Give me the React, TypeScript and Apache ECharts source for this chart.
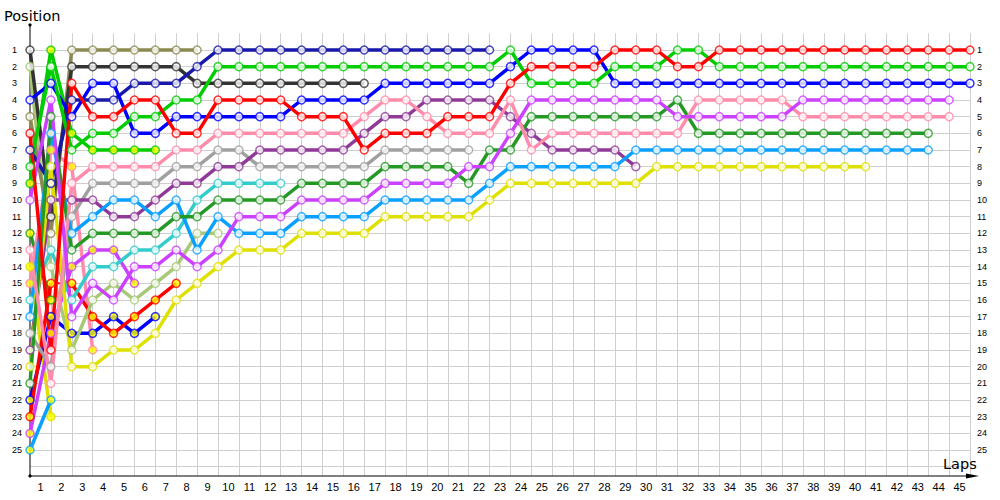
import React, { useEffect, useRef } from "react";
import * as echarts from "echarts";

// Tick labels
const lapLabels = ["1","2","3","4","5","6","7","8","9","10","11","12","13","14","15","16","17","18","19","20","21","22","23","24","25","26","27","28","29","30","31","32","33","34","35","36","37","38","39","40","41","42","43","44","45"];
const maxLap = 45;
const maxPosition = 25;

// Positions per lap (index = lap, starting with the grid at lap 0)
const red = [6,19,3,5,5,4,4,6,6,4,4,4,4,5,5,5,7,6,6,6,5,5,5,3,2,2,2,2,1,1,1,2,2,1,1,1,1,1,1,1,1,1,1,1,1,1];
const green = [8,2,7,6,6,5,5,4,4,2,2,2,2,2,2,2,2,2,2,2,2,2,2,1,3,3,3,3,2,2,2,1,1,2,2,2,2,2,2,2,2,2,2,2,2,2];
const blue = [4,3,5,3,3,6,6,5,5,5,5,5,5,4,4,4,4,3,3,3,3,3,3,2,1,1,1,1,3,3,3,3,3,3,3,3,3,3,3,3,3,3,3,3,3,3];
const navy = [7,9,4,4,4,3,3,3,2,1,1,1,1,1,1,1,1,1,1,1,1,1,1];
const olive = [5,12,1,1,1,1,1,1,1];
const darkGray = [1,11,2,2,2,2,2,2,3,3,3,3,3,3,3,3,3];
const pink = [13,21,9,8,8,8,8,7,7,6,6,6,6,6,6,6,5,4,4,5,6,6,6,4,7,6,6,6,6,6,6,6,4,4,4,4,4,5,5,5,5,5,5,5,5];
const purple = [19,10,10,10,11,11,10,9,9,8,8,7,7,7,7,7,6,5,5,4,4,4,4,5,6,7,7,7,7,8];
const gray = [18,20,11,9,9,9,9,8,8,7,7,8,8,8,8,8,8,7,7,7,7,7];
const cyan = [16,13,16,14,14,13,13,12,10,9,9,9,9];
const darkGreen = [21,5,13,12,12,12,12,11,11,10,10,10,10,9,9,9,9,8,8,8,8,9,7,7,5,5,5,5,5,5,5,4,6,6,6,6,6,6,6,6,6,6,6,6];
const lightBlue = [17,6,12,11,10,10,11,10,13,11,12,12,12,11,11,11,11,10,10,10,10,10,9,8,8,8,8,8,8,7,7,7,7,7,7,7,7,7,7,7,7,7,7,7];
const magenta = [10,4,17,15,16,14,14,13,14,13,11,11,11,10,10,10,10,9,9,9,9,8,8,6,4,4,4,4,4,4,4,5,5,5,5,5,5,4,4,4,4,4,4,4,4];
const lightGreen = [2,14,19,16,15,16,15,14,12,12];
const yellow = [20,8,20,20,19,19,18,16,15,14,13,13,13,12,12,12,12,11,11,11,11,11,10,9,9,9,9,9,9,9,8,8,8,8,8,8,8,8,8,8,8];
const greenB = [9,1,6,7,7,7,7];
const redB = [23,15,15,17,18,17,16,15];
const blueB = [22,17,18,18,17,18,17];
const magentaB = [24,18,14,13,13,15];
const pinkB = [15,7,8,19];
const yellowB = [14,23];
const lightBlueB = [25,22];
const darkGreenB = [12,16];

type Driver = { name: string; color: string; filled: boolean; pos: number[]; dashed?: number[] };

const drivers: Driver[] = [
  { name: "Yellow B", color: "#e0e000", filled: true, pos: yellowB },
  { name: "Light blue B", color: "#0aa0ff", filled: true, pos: lightBlueB },
  { name: "Dark green B", color: "#259925", filled: true, pos: darkGreenB },
  { name: "Pink B", color: "#ff8caa", filled: true, pos: pinkB },
  { name: "Magenta B", color: "#cc40ff", filled: true, pos: magentaB },
  { name: "Blue B", color: "#0000ff", filled: true, pos: blueB },
  { name: "Red B", color: "#ff0000", filled: true, pos: redB, dashed: [1] },
  { name: "Green B", color: "#00cc00", filled: true, pos: greenB },
  { name: "Light green", color: "#a8c878", filled: false, pos: lightGreen },
  { name: "Olive", color: "#8c8a52", filled: false, pos: olive },
  { name: "Cyan", color: "#33cccc", filled: false, pos: cyan },
  { name: "Dark gray", color: "#333333", filled: false, pos: darkGray },
  { name: "Gray", color: "#a0a0a0", filled: false, pos: gray },
  { name: "Navy", color: "#1818aa", filled: false, pos: navy },
  { name: "Purple", color: "#903a98", filled: false, pos: purple },
  { name: "Yellow", color: "#e0e000", filled: false, pos: yellow },
  { name: "Light blue", color: "#0aa0ff", filled: false, pos: lightBlue },
  { name: "Dark green", color: "#259925", filled: false, pos: darkGreen },
  { name: "Pink", color: "#ff8caa", filled: false, pos: pink },
  { name: "Magenta", color: "#cc40ff", filled: false, pos: magenta },
  { name: "Blue", color: "#0000ff", filled: false, pos: blue },
  { name: "Green", color: "#00cc00", filled: false, pos: green },
  { name: "Red", color: "#ff0000", filled: false, pos: red },
];

function buildSeries() {
  const lines: any[] = [];
  const marks: any[] = [];
  drivers.forEach((d) => {
    const dashed = d.dashed || [];
    let run: number[][] = [];
    const flush = () => {
      if (run.length > 1) {
        lines.push({
          type: "line", name: d.name, data: run, showSymbol: false, symbol: "none",
          lineStyle: { color: d.color, width: 3.5 }, z: 2, silent: true, xAxisIndex: 0, yAxisIndex: 0,
        });
      }
      run = [];
    };
    for (let i = 0; i < d.pos.length; i++) {
      if (run.length === 0) run.push([i, d.pos[i]]);
      if (i + 1 < d.pos.length) {
        if (dashed.includes(i)) {
          flush();
          lines.push({
            type: "line", name: d.name, data: [[i, d.pos[i]], [i + 1, d.pos[i + 1]]], showSymbol: false, symbol: "none",
            lineStyle: { color: d.color, width: 2, type: [4, 3] }, z: 2, silent: true, xAxisIndex: 0, yAxisIndex: 0,
          });
        } else {
          run.push([i + 1, d.pos[i + 1]]);
        }
      }
    }
    flush();
    marks.push({
      type: "scatter", name: d.name, data: d.pos.map((p, i) => [i, p]), symbol: "circle", symbolSize: 8,
      itemStyle: { color: d.filled ? "#ffff00" : "#ffffff", borderColor: d.color, borderWidth: 1.5 },
      z: 3, silent: true, xAxisIndex: 0, yAxisIndex: 0,
    });
  });
  return [...lines, ...marks];
}

const labelFont = "Liberation Sans";

const option: any = {
  animation: false,
  backgroundColor: "#ffffff",
  grid: { left: 30, right: 30, top: 33.333, bottom: 24.17, containLabel: false },
  xAxis: [
    {
      type: "value", min: 0, max: maxLap, interval: 1,
      axisLine: { show: false }, axisTick: { show: false }, axisLabel: { show: false },
      splitLine: { show: true, showMinLine: false, lineStyle: { color: "#cfcfcf", width: 1 } },
    },
    {
      type: "category", data: lapLabels, boundaryGap: true, position: "bottom",
      axisLine: { show: false }, axisTick: { show: false }, splitLine: { show: false },
      axisLabel: { interval: 0, margin: 6, color: "#000", fontSize: 11, fontFamily: labelFont },
    },
  ],
  yAxis: [
    {
      type: "value", inverse: true, min: 0, max: 26.55, interval: 1, position: "left",
      axisLine: { show: false }, axisTick: { show: false },
      splitLine: { show: true, showMinLine: false, showMaxLine: false, lineStyle: { color: "#cfcfcf", width: 1 } },
      axisLabel: {
        align: "left", margin: 18, color: "#000", fontSize: 9, fontFamily: labelFont,
        formatter: (v: number) => (Math.abs(v - Math.round(v)) < 1e-6 && v >= 1 && v <= maxPosition ? String(Math.round(v)) : ""),
      },
    },
    {
      type: "value", inverse: true, min: 0, max: 26.55, interval: 1, position: "right",
      axisLine: { show: false }, axisTick: { show: false }, splitLine: { show: false },
      axisLabel: {
        margin: 7, color: "#000", fontSize: 9, fontFamily: labelFont,
        formatter: (v: number) => (Math.abs(v - Math.round(v)) < 1e-6 && v >= 1 && v <= maxPosition ? String(Math.round(v)) : ""),
      },
    },
  ],
  graphic: [
    { type: "line", z: 1, shape: { x1: 30, y1: 25, x2: 30, y2: 476 }, style: { stroke: "#000", lineWidth: 1 } },
    { type: "line", z: 1, shape: { x1: 30, y1: 476, x2: 972, y2: 476 }, style: { stroke: "#000", lineWidth: 1 } },
    { type: "polygon", z: 1, shape: { points: [[966, 473.5], [979, 476], [966, 478.5]] }, style: { fill: "#000" } },
    { type: "circle", z: 1, shape: { cx: 30, cy: 25, r: 1.6 }, style: { fill: "#000" } },
    { type: "circle", z: 1, shape: { cx: 30, cy: 476, r: 1.6 }, style: { fill: "#000" } },
    { type: "text", z: 5, x: 4, y: 16, style: { text: "Position", fill: "#000", font: "14.5px 'DejaVu Sans'", textVerticalAlign: "middle" } },
    { type: "text", z: 5, x: 943, y: 464, style: { text: "Laps", fill: "#000", font: "14.5px 'DejaVu Sans'", textVerticalAlign: "middle" } },
  ],
  series: buildSeries(),
};

export default function App() {
  const ref = useRef<HTMLDivElement>(null);
  useEffect(() => {
    const chart = echarts.init(ref.current!, null, { renderer: "svg" });
    chart.setOption(option);
    return () => chart.dispose();
  }, []);
  return (
    <div
      ref={ref}
      style={{ position: "fixed", left: 0, top: 0, width: 1000, height: 500, background: "#fff" }}
    />
  );
}
